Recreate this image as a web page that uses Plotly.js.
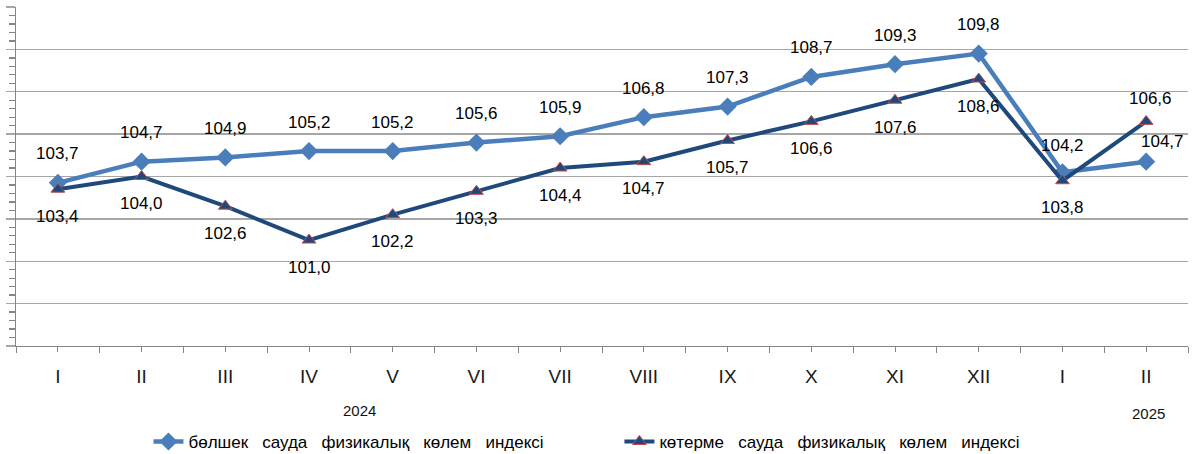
<!DOCTYPE html>
<html>
<head>
<meta charset="utf-8">
<script src="https://cdn.plot.ly/plotly-3.0.1.min.js"></script>
<style>html,body{margin:0;padding:0;background:#fff;}#chart{width:1200px;height:454px;}</style>
</head>
<body>
<div id="chart"></div>
<script>
// Data
const months = ['I','II','III','IV','V','VI','VII','VIII','IX','X','XI','XII','I','II'];
const G = '\u00a0\u00a0 ';
const retailName = ['бөлшек','сауда','физикалық','көлем','индексі'].join(G);
const wholesaleName = ['көтерме','сауда','физикалық','көлем','индексі'].join(G);
const retail = [103.7,104.7,104.9,105.2,105.2,105.6,105.9,106.8,107.3,108.7,109.3,109.8,104.2,104.7];
const wholesale = [103.4,104.0,102.6,101.0,102.2,103.3,104.4,104.7,105.7,106.6,107.6,108.6,103.8,106.6];
const years = ['2024','2025'];

const xs = months.map((_, i) => i);
const fmt = v => v.toFixed(1).replace('.', ',');

const retailColor = '#4A7EBB';
const wholeColor = '#1F497D';
const gridColor = '#A6A6A6';
const axisColor = '#868686';
const FONT = 'Liberation Sans, Arial, sans-serif';

const traces = [
  {
    x: xs, y: retail, name: retailName, type: 'scatter', mode: 'lines+markers',
    line: {color: retailColor, width: 4.5},
    marker: {symbol: 'diamond', size: 14, color: retailColor},
    hoverinfo: 'skip'
  },
  {
    x: xs, y: wholesale, name: wholesaleName, type: 'scatter', mode: 'lines+markers',
    line: {color: wholeColor, width: 4},
    marker: {symbol: 'triangle-up', size: 12, color: wholeColor, line: {color: '#C0504D', width: 1}},
    hoverinfo: 'skip'
  }
];

// label offsets (pixels)
const retailShift = retail.map(() => [0, 29]);
retailShift[12] = [0, 27];
retailShift[13] = [16, 20];
const wholeShift = wholesale.map(() => [0, -27]);
wholeShift[13] = [4, 23];

const annotations = [];
retail.forEach((v, i) => annotations.push({
  x: xs[i], y: v, xref: 'x', yref: 'y', text: fmt(v), showarrow: false,
  xshift: retailShift[i][0], yshift: retailShift[i][1],
  font: {family: FONT, size: 17, color: '#000'}
}));
wholesale.forEach((v, i) => annotations.push({
  x: xs[i], y: v, xref: 'x', yref: 'y', text: fmt(v), showarrow: false,
  xshift: wholeShift[i][0], yshift: wholeShift[i][1],
  font: {family: FONT, size: 17, color: '#000'}
}));
annotations.push({x: 0.2935, y: 0, xref: 'paper', yref: 'paper', text: years[0], showarrow: false,
  xanchor: 'center', yanchor: 'middle',
  yshift: -64, font: {family: FONT, size: 15, color: '#111'}});
annotations.push({x: 0.9667, y: 0, xref: 'paper', yref: 'paper', text: years[1], showarrow: false,
  xanchor: 'center', yanchor: 'middle',
  yshift: -67, font: {family: FONT, size: 15, color: '#111'}});

const layout = {
  width: 1200, height: 454,
  margin: {l: 16, r: 12, t: 7, b: 108, autoexpand: false},
  paper_bgcolor: '#fff', plot_bgcolor: '#fff',
  showlegend: true,
  legend: {
    orientation: 'h', x: 0.113, xanchor: 'left', y: -0.283, yanchor: 'middle',
    font: {family: FONT, size: 17, color: '#000'}, entrywidth: 426, entrywidthmode: 'pixels',
    bgcolor: 'rgba(0,0,0,0)'
  },
  xaxis: {
    range: [-0.5, 13.5], tickmode: 'array', tickvals: xs, ticktext: months,
    showgrid: false, zeroline: false, showline: true, linecolor: axisColor, linewidth: 1,
    ticks: 'outside', ticklen: 5, tickcolor: axisColor, tickwidth: 1,
    ticklabelstandoff: 8,
    minor: {tickmode: 'array', tickvals: xs.concat([xs.length]).map(v => v - 0.5), ticks: 'outside', ticklen: 6, tickcolor: axisColor},
    tickfont: {family: FONT, size: 19, color: '#1a1a1a'},
    fixedrange: true
  },
  yaxis: {
    range: [96, 112], dtick: 2, tick0: 96, showticklabels: false,
    showgrid: true, gridcolor: gridColor, gridwidth: 1.3, zeroline: false,
    showline: true, linecolor: axisColor, linewidth: 1,
    ticks: 'outside', ticklen: 9, tickcolor: gridColor, tickwidth: 1.3,
    minor: {dtick: 0.4, tick0: 96, ticks: 'outside', ticklen: 6, tickcolor: axisColor, showgrid: false},
    fixedrange: true
  },
  xaxis2: {
    overlaying: 'x', anchor: 'y2', matches: 'x', range: [-0.5, 13.5], tickmode: 'array', tickvals: xs,
    showticklabels: false, showgrid: false, zeroline: false, showline: false,
    ticks: 'inside', ticklen: 5, tickcolor: axisColor
  },
  yaxis2: {
    overlaying: 'y', anchor: 'x2', range: [96, 112], dtick: 2, tick0: 96, showticklabels: false,
    showgrid: false, zeroline: false, showline: false, ticks: '',
    minor: {dtick: 0.4, tick0: 96, ticks: 'inside', ticklen: 6, tickcolor: axisColor, showgrid: false}
  },
  annotations: annotations
};

Plotly.newPlot('chart', traces, layout, {displayModeBar: false, staticPlot: true});
</script>
</body>
</html>
